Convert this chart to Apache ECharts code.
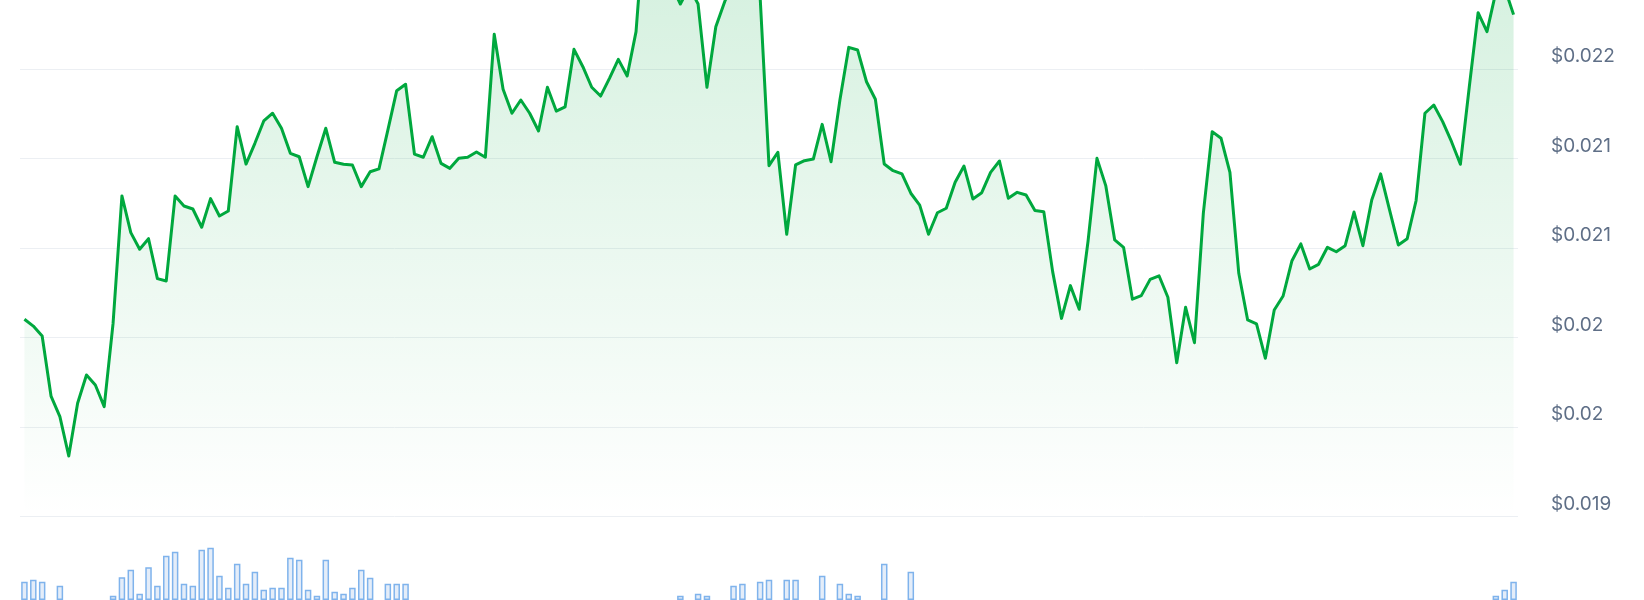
<!DOCTYPE html>
<html><head><meta charset="utf-8">
<script src="https://cdn.jsdelivr.net/npm/echarts@6/dist/echarts.min.js"></script>
<style>html,body{margin:0;padding:0;background:#fff;}#chart{width:1644px;height:600px;}</style>
</head><body><div id="chart"></div>
<script>
// Price (USD), hourly points
const pricesA = [0.020603,0.020565,0.020510,0.020174,0.020059,0.019839,0.020134,0.020292,0.020236,0.020115,
  0.020580,0.021292,0.021087,0.020994,0.021053,0.020830,0.020817,0.021292,0.021236,0.021219,
  0.021117,0.021277,0.021180,0.021208,0.021679,0.021470,0.021586,0.021711,0.021754,0.021670,
  0.021530,0.021511,0.021344,0.021511,0.021670,0.021480,0.021469,0.021465,0.021344,0.021427,
  0.021443,0.021660,0.021880,0.021916,0.021526,0.021508,0.021623,0.021474,0.021446,0.021502,
  0.021508,0.021537,0.021508,0.022195,0.021888,0.021754];
const pricesB = [0.021828,0.021754,0.021655,0.021899,0.021766,0.021790,0.022111,0.022014,0.021899,0.021850,
  0.021949,0.022055,0.021962,0.022210,0.022862,0.022722,0.022610,0.022470,0.022364,0.022459,
  0.022364,0.021899,0.022237,0.022377,0.022498,0.022554,0.022526,0.022403,0.021461,0.021536,
  0.021078,0.021465,0.021489,0.021498,0.021692,0.021483,0.021828,0.022122,0.022107,0.021930,
  0.021832,0.021470,0.021433,0.021415,0.021307,0.021241,0.021078,0.021198,0.021223,0.021368,
  0.021459,0.021275,0.021310,0.021424,0.021487,0.021279];
const pricesC = [0.021312,0.021297,0.021210,0.021204,0.020869,0.020608,0.020791,0.020659,0.021042,0.021502,
  0.021348,0.021046,0.021005,0.020715,0.020735,0.020826,0.020846,0.020726,0.020360,0.020670,
  0.020472,0.021195,0.021651,0.021614,0.021424,0.020860,0.020599,0.020577,0.020385,0.020655,
  0.020733,0.020930,0.021024,0.020884,0.020910,0.021005,0.020980,0.021014,0.021202,0.021014,
  0.021269,0.021415,0.021216,0.021018,0.021053,0.021265,0.021754,0.021800,0.021707,0.021595,
  0.021469,0.021899,0.022316,0.022210,0.022431,0.022454,0.022305];

// Volume (null = no bar shown)
const volumeA = [18300,20300,18300,null,14300,null,null,null,null,null,
  4300,22700,30300,6300,32700,14300,44300,48300,16300,14300,
  50300,52300,24300,12300,36300,16300,28300,10300,12300,12300,
  42300,40300,10300,4300,40300,8300,6300,12300,30300,22300,
  null,16300,16300,16300,null,null,null,null,null,null,
  null,null,null,null,null,null];
const volumeB = [null,null,null,null,null,null,null,null,null,null,
  null,null,null,null,null,null,null,null,4300,null,
  6300,4300,null,null,14300,16300,null,18300,20300,null,
  20300,20300,null,null,24300,null,16300,6300,4300,null,
  null,36300,null,null,28300,null,null,null,null,null,
  null,null,null,null,null,null];
const volumeC = [null,null,null,null,null,null,null,null,null,null,
  null,null,null,null,null,null,null,null,null,null,
  null,null,null,null,null,null,null,null,null,null,
  null,null,null,null,null,null,null,null,null,null,
  null,null,null,null,null,null,null,null,null,null,
  null,null,null,null,4300,10300,18300];

const yTickValues = [0.0195,0.0200,0.0205,0.0210,0.0215,0.0220];
const yTickLabels = ['$0.019','$0.02','$0.02','$0.021','$0.021','$0.022'];
const yAxisMax = 0.0223866; // visible top edge of the price panel

const prices = pricesA.concat(pricesB, pricesC);
const volumes = volumeA.concat(volumeB, volumeC);
const categories = [];
const startTime = Date.UTC(2024, 0, 1, 0);
for (let i = 0; i < prices.length; i++) {
  categories.push(new Date(startTime + i * 3600000).toISOString().slice(0, 16));
}

const gridColor = '#eceff3';
const chart = echarts.init(document.getElementById('chart'), null, {renderer: 'canvas'});
chart.setOption({
  animation: false,
  backgroundColor: '#ffffff',
  grid: [
    {left: 20, right: 126, top: 0, bottom: 83.3},
    {left: 20, right: 126, top: 540, bottom: 0}
  ],
  xAxis: [
    {type: 'category', gridIndex: 0, data: categories, boundaryGap: true, show: false},
    {type: 'category', gridIndex: 1, data: categories, boundaryGap: true, show: false}
  ],
  yAxis: [
    {
      type: 'value', gridIndex: 0, position: 'right',
      min: yTickValues[0], max: yAxisMax, interval: 0.0005,
      axisLine: {show: false}, axisTick: {show: false},
      splitLine: {show: true, lineStyle: {
        color: yTickValues.map(function () { return gridColor; }).concat(['rgba(0,0,0,0)']),
        width: 1}},
      axisLabel: {
        margin: 33, color: '#5f6f87', fontSize: 19, fontFamily: 'Inter',
        align: 'left', verticalAlign: 'bottom', padding: [0, 0, 3, 0],
        showMaxLabel: false,
        formatter: function (v) {
          const idx = Math.round((v - yTickValues[0]) / 0.0005);
          if (Math.abs(v - yTickValues[idx]) > 1e-7) return '';
          return yTickLabels[idx] !== undefined ? yTickLabels[idx] : '';
        }
      }
    },
    {type: 'value', gridIndex: 1, min: 0, max: 60000, show: false, splitLine: {show: false}}
  ],
  series: [
    {
      type: 'line', xAxisIndex: 0, yAxisIndex: 0, data: prices,
      symbol: 'none', smooth: false, clip: true, z: 3,
      lineStyle: {color: '#00a83e', width: 3, join: 'round'},
      areaStyle: {
        color: new echarts.graphic.LinearGradient(0, 0, 0, 1, [
          {offset: 0, color: 'rgba(0,168,62,0.26)'},
          {offset: 1, color: 'rgba(0,168,62,0.0)'}
        ])
      }
    },
    {
      type: 'bar', xAxisIndex: 1, yAxisIndex: 1, data: volumes,
      barWidth: 6.5,
      itemStyle: {color: '#e4edf9', borderColor: '#7fb3ec', borderWidth: 1.5}
    }
  ]
});
</script>
</body></html>
